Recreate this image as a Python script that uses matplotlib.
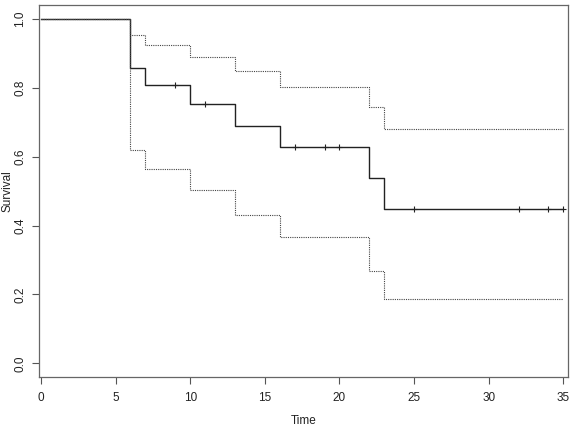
import matplotlib
matplotlib.use("Agg")
import matplotlib.pyplot as plt

plt.rcParams['font.family'] = ['Liberation Sans', 'DejaVu Sans']

# Kaplan-Meier step values
step_times = [0, 6, 7, 10, 13, 16, 22, 23]
surv = [1.0, 0.857, 0.807, 0.753, 0.690, 0.627, 0.538, 0.448]
upper = [1.0, 0.952, 0.923, 0.889, 0.849, 0.802, 0.745, 0.679]
lower = [1.0, 0.620, 0.563, 0.503, 0.432, 0.367, 0.267, 0.188]
end_time = 35

# censored observations that show as marks
cens_times = [9, 11, 17, 19, 20, 25, 32, 34, 35]
cens_surv = [0.807, 0.753, 0.627, 0.627, 0.627, 0.448, 0.448, 0.448, 0.448]

xticks = [0, 5, 10, 15, 20, 25, 30, 35]
yticks = [0.0, 0.2, 0.4, 0.6, 0.8, 1.0]

fig = plt.figure(figsize=(5.73, 4.29), dpi=100)
ax = fig.add_axes([0.068, 0.121, 0.923, 0.867])

xs = step_times + [end_time]
ax.step(xs, surv + [surv[-1]], where='post', color='#222222', lw=1.0)
ax.step(xs, upper + [upper[-1]], where='post', color='#444444', lw=0.8, linestyle=(0, (1, 1)))
ax.step(xs, lower + [lower[-1]], where='post', color='#444444', lw=0.8, linestyle=(0, (1, 1)))
ax.plot(cens_times, cens_surv, linestyle='none', marker='+', color='#222222', ms=5, mew=0.8)

ax.set_xlim(-0.13, 35.3)
ax.set_ylim(-0.04, 1.04)
ax.set_xticks(xticks)
ax.set_xticklabels([str(t) for t in xticks])
ax.set_yticks(yticks)
ax.set_yticklabels(['%.1f' % v for v in yticks], rotation=90, va='center')

for s in ax.spines.values():
    s.set_color('#666666')
    s.set_linewidth(0.9)

ax.tick_params(axis='both', direction='out', length=5, width=0.8, color='#555555',
               labelsize=8.5, labelcolor='#222222')
ax.tick_params(axis='x', pad=6)
ax.tick_params(axis='y', pad=4)

ax.set_xlabel('Time', fontsize=8.5, color='#222222', labelpad=8)
ax.set_ylabel('Survival', fontsize=8.5, color='#222222', labelpad=1)

fig.savefig('out.png', dpi=100)
